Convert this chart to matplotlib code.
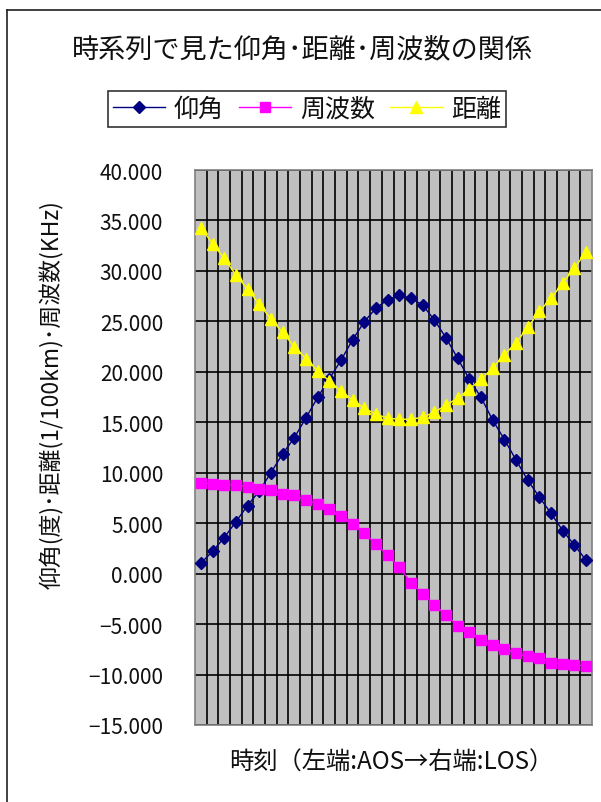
import matplotlib
matplotlib.use("Agg")
import matplotlib.pyplot as plt
from matplotlib.lines import Line2D
from matplotlib.ticker import FuncFormatter, MultipleLocator
import numpy as np

plt.rcParams['font.family'] = ['Noto Sans CJK JP', 'DejaVu Sans']

# samples from AOS (left) to LOS (right)
elevation = [1.04, 2.2, 3.57, 5.14, 6.75, 8.18, 10.0, 11.86, 13.46, 15.43,
             17.46, 19.3, 21.14, 23.18, 24.96, 26.32, 27.14, 27.57, 27.29, 26.61,
             25.14, 23.36, 21.32, 19.25, 17.46, 15.2, 13.29, 11.25, 9.25, 7.57,
             5.96, 4.25, 2.82, 1.32]
frequency = [8.98, 8.9, 8.8, 8.75, 8.62, 8.42, 8.25, 7.9, 7.77, 7.3,
             6.88, 6.36, 5.68, 4.9, 4.0, 2.93, 1.82, 0.62, -0.88, -1.98,
             -3.06, -4.14, -5.14, -5.8, -6.55, -7.1, -7.45, -7.9, -8.2, -8.36,
             -8.82, -8.95, -9.02, -9.15]
distance = [34.3, 32.7, 31.25, 29.6, 28.2, 26.7, 25.25, 23.9, 22.5, 21.3,
            20.1, 19.1, 18.1, 17.2, 16.4, 15.8, 15.4, 15.3, 15.3, 15.5,
            16.0, 16.7, 17.4, 18.3, 19.25, 20.4, 21.7, 22.9, 24.4, 26.0,
            27.3, 28.8, 30.3, 31.9]

series_names = ['仰角', '周波数', '距離']
title = '時系列で見た仰角･距離･周波数の関係'
ylabel = '仰角(度)･距離(1/100km)･周波数(KHz)'
xlabel = '時刻（左端:AOS→右端:LOS）'

W, H = 601, 803
fig = plt.figure(figsize=(W / 100, H / 100), dpi=100)

# outer chart frame (left and top edges only)
fig.add_artist(Line2D([7 / W, 7 / W], [0, 1 - 11 / H], color='#202020', lw=1.2))
fig.add_artist(Line2D([7 / W, 1], [1 - 11 / H, 1 - 11 / H], color='#202020', lw=1.2))

ax = fig.add_axes([195 / W, 1 - 726 / H, 397 / W, 555 / H])
ax.set_facecolor('#C0C0C0')

x = np.arange(len(elevation))
ax.plot(x, elevation, color='#000080', lw=1.0, marker='D', ms=6,
        mec='#000080', mfc='#000080', label=series_names[0], zorder=3)
ax.plot(x, frequency, color='#FF00FF', lw=1.0, marker='s', ms=7,
        mec='#FF00FF', mfc='#FF00FF', label=series_names[1], zorder=3)
ax.plot(x, distance, color='#FFFF00', lw=1.0, marker='^', ms=8.5,
        mec='#FFFF00', mfc='#FFFF00', label=series_names[2], zorder=3)

ax.set_xlim(-0.5, len(x) - 0.5)
ax.set_ylim(-15, 40)
ax.yaxis.set_major_locator(MultipleLocator(5))
ax.yaxis.set_major_formatter(FuncFormatter(lambda v, p: ('%.3f' % v).replace('-', '\u2212')))

# category boundaries as vertical gridlines
ax.set_xticks(np.arange(0.5, len(x) - 0.5, 1.0))
ax.set_xticklabels([])
ax.tick_params(axis='x', length=0)
ax.tick_params(axis='y', length=0, pad=23, labelsize=15, labelcolor='#101010')
ax.grid(True, color='black', lw=1.2)
ax.set_axisbelow(True)
for sp in ax.spines.values():
    sp.set_color('#808080')
    sp.set_linewidth(1.2)

fig.text(302 / W, 1 - 50 / H, title, ha='center', va='center', fontsize=19.5, color='#101010')
fig.text(52 / W, 1 - 395 / H, ylabel, ha='center', va='center', rotation=90,
         fontsize=16.5, color='#101010')
fig.text(391 / W, 1 - 763 / H, xlabel, ha='center', va='center', fontsize=17.5, color='#101010')

leg = fig.legend(loc='center', bbox_to_anchor=(307 / W, 1 - 110 / H), ncol=3,
                 fontsize=18, frameon=True, fancybox=False, handlelength=2.1,
                 handletextpad=0.35, columnspacing=0.6, borderpad=0.2,
                 borderaxespad=0)
leg.get_frame().set_edgecolor('black')
leg.get_frame().set_linewidth(1.2)
for t in leg.get_texts():
    t.set_color('#101010')

fig.savefig('out.png', dpi=100)
